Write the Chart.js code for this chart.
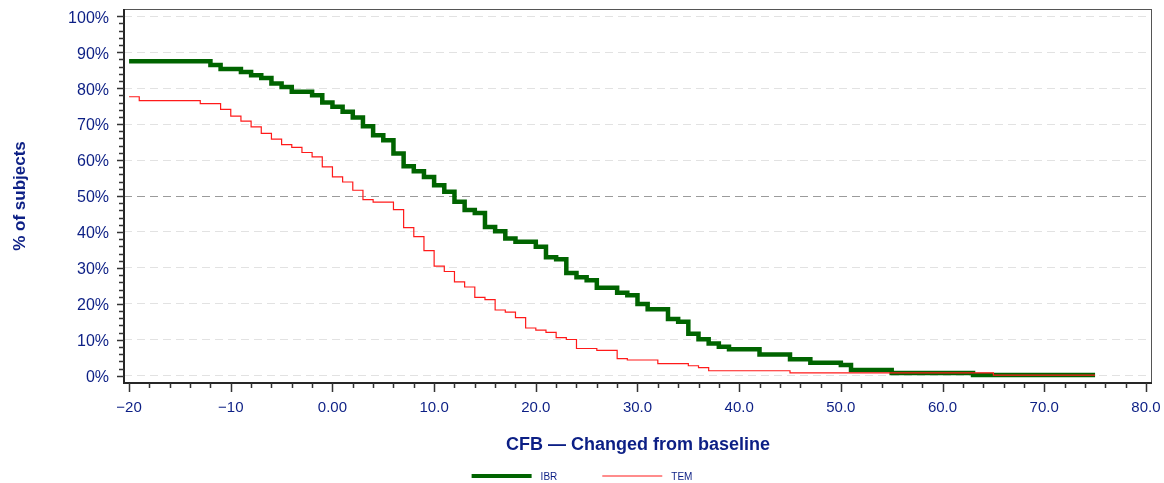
<!DOCTYPE html>
<html>
<head>
<meta charset="utf-8">
<title>CFB - Changed from baseline</title>
<script src="https://cdn.jsdelivr.net/npm/chart.js@4.4.1/dist/chart.umd.min.js"></script>
<style>
    html, body { margin: 0; padding: 0; background: #ffffff; }
    #wrap { width: 1164px; height: 483px; position: relative; }
</style>
</head>
<body>
<div id="wrap"><canvas id="cfbChart"></canvas></div>
<script>
// % of subjects with CFB at or above each value (step curves)
const ibrX = [-20, -12, -11, -9, -8, -7, -6, -5, -4, -2, -1, 0, 1, 2, 3, 4, 5, 6, 7, 8, 9, 10, 11, 12, 13, 14, 15, 16, 17, 18,
              20, 21, 22, 23, 24, 25, 26, 28, 29, 30, 31, 33, 34, 35, 36, 37, 38, 39, 42, 45, 47, 50, 51, 55, 63, 75];
const ibrY = [87.5, 86.4, 85.3, 84.5, 83.6, 82.8, 81.3, 80.3, 79.0, 78.0, 76.0, 74.8, 73.4, 71.8, 69.4, 66.9, 65.5, 61.8, 58.3, 56.9,
              55.3, 53.0, 51.2, 48.4, 46.1, 45.3, 41.4, 40.2, 38.2, 37.3, 35.9, 33.0, 32.4, 28.6, 27.4, 26.6, 24.5, 23.1, 22.4, 20.0,
              18.5, 15.8, 15.0, 11.7, 10.2, 9.0, 8.1, 7.4, 5.9, 4.6, 3.6, 3.0, 1.6, 0.8, 0.2, 0.2];

const temX = [-20, -19, -13, -11, -10, -9, -8, -7, -6, -5, -4, -3, -2, -1, 0, 1, 2, 3, 4, 6, 7, 8, 9, 10, 11, 12, 13, 14,
              15, 16, 17, 18, 19, 20, 21, 22, 23, 24, 26, 28, 29, 32, 35, 36, 37, 45, 65, 75];
const temY = [77.6, 76.5, 75.7, 74.1, 72.2, 70.8, 69.2, 67.4, 65.8, 64.3, 63.5, 62.1, 60.9, 58.1, 55.3, 53.9, 51.6, 49.0, 48.3,
              46.2, 41.2, 38.7, 34.8, 30.5, 29.0, 26.1, 24.7, 21.8, 21.2, 18.3, 17.7, 16.2, 13.3, 12.7, 12.1, 10.6, 10.1, 7.6,
              7.1, 4.8, 4.4, 3.4, 2.8, 2.3, 1.4, 0.8, 0.2, 0.2];

const seriesNames = ['IBR', 'TEM'];

const xTickValues = [-20, -10, 0, 10, 20, 30, 40, 50, 60, 70, 80];
const xTickLabels = ['\u221220', '\u221210', '0.00', '10.0', '20.0', '30.0', '40.0', '50.0', '60.0', '70.0', '80.0'];
const yTickValues = [0, 10, 20, 30, 40, 50, 60, 70, 80, 90, 100];
const yTickLabels = ['0%', '10%', '20%', '30%', '40%', '50%', '60%', '70%', '80%', '90%', '100%'];

const NAVY = '#0c1f85';
const FONT = '"Liberation Sans", Arial, Helvetica, sans-serif';

Chart.defaults.font.family = FONT;
Chart.defaults.color = NAVY;

function toPoints(xs, ys) {
    return xs.map((x, i) => ({ x: x, y: ys[i] }));
}

// Box around the plot plus the outward major/minor tick marks
const axisFrame = {
    id: 'axisFrame',
    afterDraw(chart) {
        const { ctx, chartArea: a, scales } = chart;
        const xs = scales.x, ys = scales.y;
        ctx.save();

        ctx.strokeStyle = '#555555';
        ctx.lineWidth = 1;
        ctx.strokeRect(a.left + 0.5, a.top + 0.5, a.right - a.left - 1, a.bottom - a.top);

        ctx.strokeStyle = '#262626';
        ctx.lineWidth = 2;
        ctx.beginPath();
        ctx.moveTo(a.left, a.top);
        ctx.lineTo(a.left, a.bottom);
        ctx.lineTo(a.right, a.bottom);
        ctx.stroke();

        ctx.lineWidth = 1.5;
        ctx.strokeStyle = '#333333';
        ctx.beginPath();
        for (let v = -20; v <= 80; v += 2) {
            const px = Math.round(xs.getPixelForValue(v)) + 0.5;
            const len = v % 10 === 0 ? 9 : 5;
            ctx.moveTo(px, a.bottom);
            ctx.lineTo(px, a.bottom + len);
        }
        for (let v = 0; v <= 100; v += 2) {
            const py = Math.round(ys.getPixelForValue(v)) + 0.5;
            const len = v % 10 === 0 ? 7 : 5;
            ctx.moveTo(a.left, py);
            ctx.lineTo(a.left - len, py);
        }
        ctx.stroke();
        ctx.restore();
    }
};

// Legend row under the axis title
const bottomLegend = {
    id: 'bottomLegend',
    afterDraw(chart) {
        const ctx = chart.ctx;
        const sets = chart.data.datasets;
        const lineLen = 60, textGap = 9, itemGap = 45, yPos = 476;
        ctx.save();
        ctx.font = '10px ' + FONT;
        const widths = sets.map(d => ctx.measureText(d.label).width);
        let total = 0;
        sets.forEach((d, i) => {
            total += lineLen + textGap + widths[i];
            if (i < sets.length - 1) total += itemGap;
        });
        let xPos = chart.width / 2 - total / 2;
        sets.forEach((d, i) => {
            ctx.strokeStyle = d.borderColor;
            ctx.lineWidth = Math.min(d.borderWidth, 4);
            ctx.beginPath();
            ctx.moveTo(xPos, yPos);
            ctx.lineTo(xPos + lineLen, yPos);
            ctx.stroke();
            ctx.fillStyle = NAVY;
            ctx.textBaseline = 'middle';
            ctx.fillText(d.label, xPos + lineLen + textGap, yPos + 1);
            xPos += lineLen + textGap + widths[i] + itemGap;
        });
        ctx.restore();
    }
};

new Chart(document.getElementById('cfbChart'), {
    type: 'line',
    data: {
        datasets: [{
            label: seriesNames[0],
            data: toPoints(ibrX, ibrY),
            borderColor: '#006400',
            borderWidth: 4.5,
            stepped: true,
            pointRadius: 0,
            fill: false,
            order: 1
        }, {
            label: seriesNames[1],
            data: toPoints(temX, temY),
            borderColor: '#ff1a1a',
            borderWidth: 1.2,
            stepped: true,
            pointRadius: 0,
            fill: false,
            order: 0
        }]
    },
    options: {
        responsive: true,
        maintainAspectRatio: false,
        animation: false,
        layout: { padding: { left: 0, right: 12, top: 9, bottom: 0 } },
        plugins: {
            legend: { display: false },
            tooltip: { enabled: false }
        },
        scales: {
            x: {
                type: 'linear',
                min: -20.5,
                max: 80.6,
                afterBuildTicks: scale => { scale.ticks = xTickValues.map(v => ({ value: v })); },
                afterFit: scale => {
                    scale.height = 100;
                    scale.paddingLeft = 0;
                    scale.paddingRight = 0;
                },
                ticks: {
                    color: NAVY,
                    font: { size: 15 },
                    padding: 8,
                    maxRotation: 0,
                    autoSkip: false,
                    callback: (value, i) => xTickLabels[i]
                },
                grid: {
                    drawOnChartArea: false,
                    tickLength: 8,
                    tickColor: 'transparent'
                },
                border: { display: false },
                title: {
                    display: true,
                    text: 'CFB \u2014 Changed from baseline',
                    color: NAVY,
                    font: { size: 18, weight: 'bold' },
                    padding: { top: 0, bottom: 27 }
                }
            },
            y: {
                min: -2,
                max: 102,
                afterBuildTicks: scale => { scale.ticks = yTickValues.map(v => ({ value: v })); },
                afterFit: scale => {
                    scale.width = 124;
                    scale.paddingTop = 0;
                    scale.paddingBottom = 0;
                },
                ticks: {
                    color: NAVY,
                    font: { size: 16 },
                    padding: 8,
                    labelOffset: 2,
                    autoSkip: false,
                    callback: (value, i) => yTickLabels[i]
                },
                grid: {
                    color: ctx => (ctx.tick && ctx.tick.value === 50) ? '#9b9b9b' : '#e2e2e2',
                    lineWidth: 1,
                    tickLength: 7,
                    tickColor: 'transparent'
                },
                border: { display: false, dash: [8, 5] },
                title: {
                    display: true,
                    text: '% of subjects',
                    color: NAVY,
                    font: { size: 17, weight: 'bold' },
                    padding: { top: 10, bottom: 0 }
                }
            }
        }
    },
    plugins: [axisFrame, bottomLegend]
});
</script>
</body>
</html>
